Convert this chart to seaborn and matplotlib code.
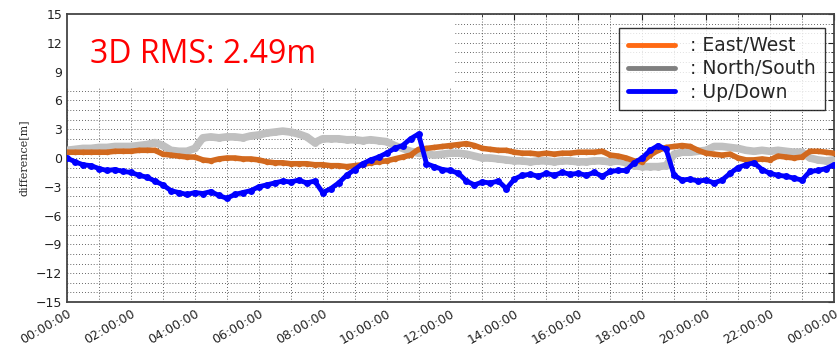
import numpy as np
import pandas as pd
import matplotlib
matplotlib.use('Agg')
import matplotlib.pyplot as plt
import matplotlib.dates as mdates
from matplotlib.lines import Line2D
from matplotlib.patches import Rectangle
import seaborn as sns

# --- Data (15 minute steps) ---
hours = np.arange(0, 24.01, 0.25)

north_south = [0.8, 0.9, 1.0, 1.0, 1.1, 1.1, 1.2, 1.2, 1.2, 1.3, 1.4, 1.6,
               1.3, 0.8, 0.7, 0.7, 1.0, 2.1, 2.2, 2.1, 2.2, 2.2, 2.1, 2.3,
               2.4, 2.6, 2.7, 2.8, 2.7, 2.5, 2.2, 1.6, 2.0, 2.0, 2.0, 1.9,
               1.9, 1.8, 1.9, 1.8, 1.7, 1.3, 1.0, 0.7, 0.5, 0.4, 0.3, 0.4,
               0.5, 0.5, 0.4, 0.2, 0.0, 0.0, -0.1, -0.2, -0.3, -0.3, -0.4, -0.3,
               -0.3, -0.4, -0.3, -0.3, -0.4, -0.4, -0.3, -0.3, -0.4, -0.3, -0.5, -0.8,
               -0.9, -0.9, -0.9, -0.8, 0.4, 0.6, 0.6, 0.7, 0.8, 1.2, 1.2, 1.1,
               1.0, 0.8, 0.7, 0.8, 0.7, 0.8, 0.7, 0.6, 0.6, 0.0, -0.2, -0.3,
               -0.2]

east_west = [0.6, 0.6, 0.6, 0.6, 0.6, 0.6, 0.7, 0.7, 0.7, 0.8, 0.8, 0.8,
             0.4, 0.3, 0.2, 0.1, 0.1, -0.2, -0.3, -0.1, 0.0, 0.0, -0.1, -0.1,
             -0.2, -0.4, -0.5, -0.5, -0.6, -0.6, -0.6, -0.7, -0.7, -0.8, -0.8, -0.9,
             -0.8, -0.7, -0.5, -0.4, -0.3, -0.1, 0.1, 0.3, 0.9, 1.0, 1.1, 1.2,
             1.3, 1.4, 1.5, 1.3, 1.0, 0.9, 0.8, 0.8, 0.6, 0.5, 0.5, 0.4,
             0.5, 0.4, 0.5, 0.5, 0.6, 0.6, 0.6, 0.7, 0.3, 0.2, 0.0, -0.3,
             -0.4, 0.3, 0.8, 1.1, 1.2, 1.3, 1.2, 0.8, 0.5, 0.4, 0.3, 0.4,
             0.0, -0.2, -0.2, -0.1, -0.2, 0.2, 0.1, 0.0, 0.1, 0.7, 0.7, 0.6,
             0.5]

up_down = [0.0, -0.4, -0.7, -0.8, -1.1, -1.3, -1.2, -1.4, -1.5, -1.8, -2.0, -2.4,
           -2.8, -3.4, -3.6, -3.8, -3.6, -3.7, -3.5, -3.9, -4.2, -3.8, -3.6, -3.4,
           -3.0, -2.8, -2.6, -2.4, -2.5, -2.3, -2.6, -2.4, -3.6, -3.2, -2.6, -1.8,
           -1.2, -0.6, -0.2, 0.1, 0.5, 1.0, 1.3, 2.0, 2.5, -0.6, -0.9, -1.2,
           -1.3, -1.6, -2.4, -2.8, -2.5, -2.6, -2.4, -3.2, -2.2, -1.8, -1.7, -1.9,
           -1.6, -1.8, -1.5, -1.7, -1.6, -1.8, -1.5, -1.9, -1.4, -1.3, -1.3, -0.5,
           0.0, 0.8, 1.3, 0.9, -1.8, -2.3, -2.2, -2.4, -2.3, -2.6, -2.3, -1.6,
           -1.0, -0.7, -0.5, -1.2, -1.6, -1.8, -1.9, -2.1, -2.3, -1.4, -1.3, -1.1,
           -0.7]

rms_label = '3D RMS: 2.49m'

# --- Build frame ---
t0 = pd.Timestamp('2017-01-01 00:00:00')
times = t0 + pd.to_timedelta(hours, unit='h')
df = pd.DataFrame({'time': times, 'ns': north_south, 'ew': east_west, 'ud': up_down})

sns.set_style('white')
plt.rcParams['font.family'] = ['DejaVu Sans']
plt.rcParams['axes.unicode_minus'] = True

fig = plt.figure(figsize=(8.39, 3.48), dpi=100)
ax = fig.add_axes([0.0799, 0.1322, 0.914, 0.8276])

sns.lineplot(data=df, x='time', y='ns', ax=ax, color='#c0c0c0', lw=5.5,
             marker='o', markersize=5, markeredgewidth=0, zorder=3)
sns.lineplot(data=df, x='time', y='ew', ax=ax, color='#d2691e', lw=4,
             marker='o', markersize=4, markeredgewidth=0, zorder=4)
sns.lineplot(data=df, x='time', y='ud', ax=ax, color='#0000ff', lw=3.5,
             marker='o', markersize=5, markeredgewidth=0, zorder=5)

# axes limits / ticks
ax.set_xlim(t0, t0 + pd.Timedelta(hours=24))
ax.set_ylim(-15, 15)
ax.set_yticks(np.arange(-15, 16, 3))
ax.set_yticks(np.arange(-15, 16, 1), minor=True)
ax.xaxis.set_major_locator(mdates.HourLocator(interval=2))
ax.xaxis.set_minor_locator(mdates.HourLocator())
ax.xaxis.set_major_formatter(mdates.DateFormatter('%H:%M:%S'))

ax.grid(True, which='both', color='#333333', linestyle=(0, (1, 2.5)), lw=0.6)
ax.set_axisbelow(True)
ax.tick_params(which='both', direction='in', top=True, right=True, colors='#222222',
               labelsize=9)
ax.tick_params(which='major', length=4, width=0.8)
ax.tick_params(which='minor', length=2, width=0.6)
for lab in ax.get_xticklabels():
    lab.set_rotation(30)
    lab.set_ha('right')
    lab.set_rotation_mode('anchor')

for s in ax.spines.values():
    s.set_color('#444444')
    s.set_linewidth(1.3)

ax.set_xlabel('')
ax.set_ylabel('difference[m]', family='DejaVu Serif', fontsize=8, labelpad=5)

# white box behind the RMS label
ax.add_patch(Rectangle((0, 0.743), 0.504, 0.257, transform=ax.transAxes,
                       facecolor='white', edgecolor='none', zorder=1))
ax.text(0.03, 0.83, rms_label, transform=ax.transAxes, color='#ff0000',
        fontsize=23, family='Open Sans', va='baseline', ha='left', zorder=6)

# legend
handles = [Line2D([], [], color='#ff6a13', lw=3.5),
           Line2D([], [], color='#808080', lw=3.5),
           Line2D([], [], color='#0000ff', lw=3.5)]
labels = [': East/West', ': North/South', ': Up/Down']
leg = ax.legend(handles, labels, loc='upper right', bbox_to_anchor=(0.988, 0.952),
                fontsize=13.5, handlelength=2.5, handletextpad=0.85,
                labelspacing=0.22, borderpad=0.45, borderaxespad=0,
                frameon=True, fancybox=False)
leg.get_frame().set_edgecolor('black')
leg.get_frame().set_linewidth(1.0)
leg.set_zorder(7)

plt.savefig('out.png', dpi=100)
